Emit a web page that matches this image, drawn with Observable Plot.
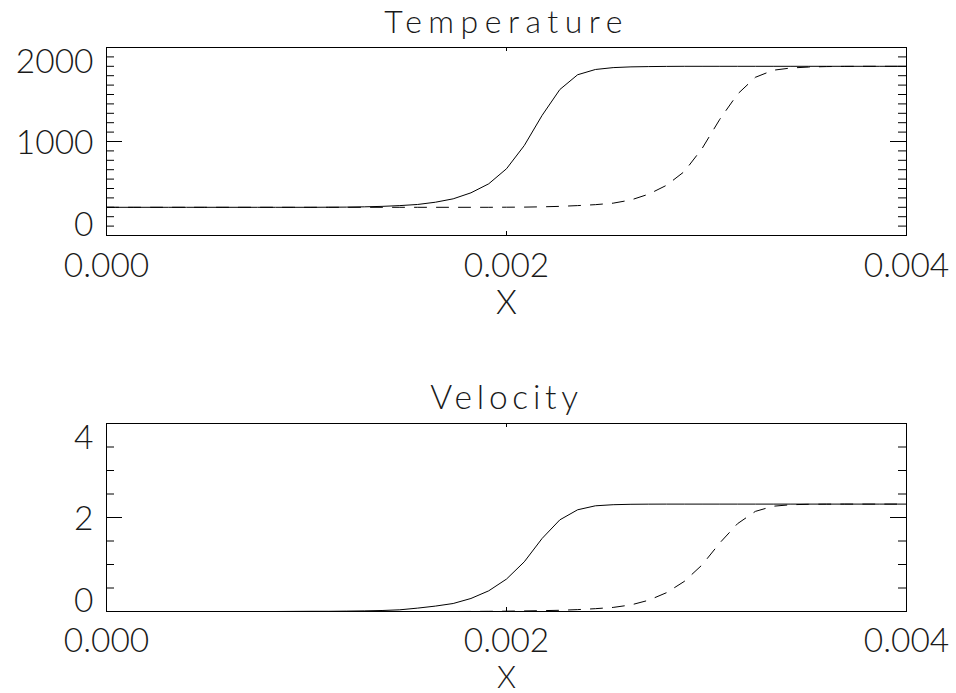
<!DOCTYPE html>
<html>
<head>
<meta charset="utf-8">
<script src="https://cdn.jsdelivr.net/npm/d3@7"></script>
<script src="https://cdn.jsdelivr.net/npm/@observablehq/plot@0.6"></script>
<style>
  html, body { margin: 0; padding: 0; background: #fff; }
  #chart { width: 956px; }
  #chart svg { display: block; }
</style>
</head>
<body>
<div id="chart"></div>
<script>
// Grid: domain boundaries plus 45 cell centres (m)
const xs = [
  0, 0.0000444, 0.0001333, 0.0002222, 0.0003111, 0.0004, 0.0004889, 0.0005778, 0.0006667,
  0.0007556, 0.0008444, 0.0009333, 0.0010222, 0.0011111, 0.0012, 0.0012889, 0.0013778,
  0.0014667, 0.0015556, 0.0016444, 0.0017333, 0.0018222, 0.0019111, 0.002, 0.0020889,
  0.0021778, 0.0022667, 0.0023556, 0.0024444, 0.0025333, 0.0026222, 0.0027111, 0.0028,
  0.0028889, 0.0029778, 0.0030667, 0.0031556, 0.0032444, 0.0033333, 0.0034222, 0.0035111,
  0.0036, 0.0036889, 0.0037778, 0.0038667, 0.0039556, 0.004
];

// Temperature (K): earlier front (solid) and later front (dashed)
const tempA = [
  300, 300, 300, 300, 300, 300, 300, 300, 300, 300, 300, 300, 300, 301, 302, 305, 310,
  318, 330, 354, 390, 454, 550, 710, 957, 1277, 1553, 1710, 1766, 1786, 1794, 1797, 1799,
  1800, 1800, 1800, 1800, 1800, 1800, 1800, 1800, 1800, 1800, 1800, 1800, 1800, 1800
];
const tempB = [
  300, 300, 300, 300, 300, 300, 300, 300, 300, 300, 300, 300, 300, 300, 300, 300, 300,
  300, 300, 300, 300, 300, 300, 301, 302, 305, 310, 318, 328, 344, 378, 440, 534,
  680, 925, 1237, 1505, 1683, 1758, 1782, 1792, 1797, 1799, 1800, 1800, 1800, 1800
];

// Velocity (m/s)
const velA = [
  0, 0, 0, 0, 0, 0, 0, 0, 0, 0, 0, 0.002, 0.004, 0.004, 0.008, 0.013, 0.021,
  0.036, 0.072, 0.115, 0.17, 0.277, 0.44, 0.69, 1.057, 1.553, 1.95, 2.164, 2.249, 2.272,
  2.281, 2.284, 2.285, 2.285, 2.285, 2.285, 2.285, 2.285, 2.285, 2.285, 2.285, 2.285,
  2.285, 2.285, 2.285, 2.285, 2.285
];
const velB = [
  0, 0, 0, 0, 0, 0, 0, 0, 0, 0, 0, 0, 0, 0, 0, 0, 0,
  0, 0, 0, 0, 0.002, 0.004, 0.007, 0.012, 0.018, 0.026, 0.04, 0.06, 0.087, 0.14, 0.24, 0.4,
  0.64, 0.99, 1.46, 1.87, 2.13, 2.24, 2.272, 2.281, 2.284, 2.285, 2.285, 2.285, 2.285, 2.285
];

// Axis ticks
const xMajor = [0, 0.002, 0.004];
const tempMajor = [0, 1000, 2000];
const tempMinor = d3.range(0, 2001, 100).filter(v => v % 1000 !== 0);
const velMajor = [0, 2, 4];
const velMinor = [0.5, 1, 1.5, 2.5, 3, 3.5];

const FONT = "Lato, 'DejaVu Sans', sans-serif";
const FS = 33.5;
const W = 956, ML = 106, MR = 50;
const innerW = W - ML - MR;

function panel({title, titleSize, titleDy, xLabelDy, xTitle, yDomain, yMajor, yMinor, solid, dashed, height, marginTop, marginBottom}) {
  const innerH = height - marginTop - marginBottom;
  const rows = xs.map((x, i) => ({x, a: solid[i], b: dashed[i]}));
  const yLong = 16, yShort = 8, xLong = 4;
  const textOpts = {fontSize: FS, fontWeight: 300, fill: "#1a1a1a"};
  return Plot.plot({
    width: W,
    height,
    marginLeft: ML,
    marginRight: MR,
    marginTop,
    marginBottom,
    x: {domain: [0, 0.004], axis: null},
    y: {domain: yDomain, axis: null},
    style: {background: "#fff", color: "#000", fontFamily: FONT, overflow: "visible"},
    marks: [
      Plot.line(rows, {x: "x", y: "a", stroke: "#000", strokeWidth: 1}),
      Plot.line(rows, {x: "x", y: "b", stroke: "#000", strokeWidth: 1, strokeDasharray: "12,10"}),
      // inward ticks on left and right edges
      Plot.tickY(yMinor, {y: d => d, insetRight: innerW - yShort, stroke: "#000"}),
      Plot.tickY(yMinor, {y: d => d, insetLeft: innerW - yShort, stroke: "#000"}),
      Plot.tickY(yMajor, {y: d => d, insetRight: innerW - yLong, stroke: "#000"}),
      Plot.tickY(yMajor, {y: d => d, insetLeft: innerW - yLong, stroke: "#000"}),
      // inward ticks on bottom and top edges
      Plot.tickX(xMajor, {x: d => d, insetTop: innerH - xLong, stroke: "#000"}),
      Plot.tickX(xMajor, {x: d => d, insetBottom: innerH - xLong, stroke: "#000"}),
      Plot.frame({stroke: "#000"}),
      // y tick labels
      ...yMajor.map((v, i) => Plot.text([v], {
        y: d => d, frameAnchor: "left", textAnchor: "end", lineAnchor: "middle",
        dx: -13, dy: -10.5 + 12.6 * i, text: d => String(d), ...textOpts
      })),
      // x tick labels
      Plot.text(xMajor, {
        x: d => d, frameAnchor: "bottom", lineAnchor: "middle", dy: xLabelDy,
        text: d => d3.format(".3f")(d), ...textOpts
      }),
      Plot.text(["X"], {frameAnchor: "bottom", text: d => d, ...textOpts, ...xTitle}),
      Plot.text([title], {frameAnchor: "top", lineAnchor: "bottom", dy: titleDy, text: d => d, ...textOpts, fontSize: titleSize})
    ]
  });
}

const tempPanel = panel({
  title: "Temperature", titleSize: 32, titleDy: -15, xLabelDy: 31,
  xTitle: {lineAnchor: "middle", dy: 68},
  yDomain: [0, 2000], yMajor: tempMajor, yMinor: tempMinor,
  solid: tempA, dashed: tempB,
  height: 347, marginTop: 47, marginBottom: 112
});
const velPanel = panel({
  title: "Velocity", titleSize: FS, titleDy: -15, xLabelDy: 29.5,
  xTitle: {lineAnchor: "bottom", dy: 76.5, fontSize: 30.5},
  yDomain: [0, 4], yMajor: velMajor, yMinor: velMinor,
  solid: velA, dashed: velB,
  height: 346, marginTop: 76, marginBottom: 82
});

const chart = document.getElementById("chart");
chart.appendChild(tempPanel);
chart.appendChild(velPanel);

// wider tracking for the word labels
const tracking = {Temperature: "6.5px", Velocity: "4.75px"};
d3.select(chart).selectAll("text")
  .filter(function () { return this.textContent in tracking; })
  .attr("letter-spacing", function () { return tracking[this.textContent]; });
</script>
</body>
</html>
